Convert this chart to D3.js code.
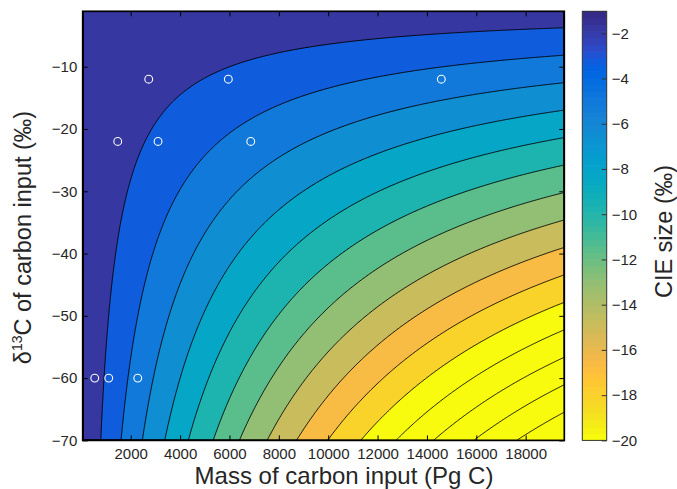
<!DOCTYPE html>
<html>
<head>
<meta charset="utf-8">
<script src="https://cdn.jsdelivr.net/npm/d3@7"></script>
<style>
  html, body { margin: 0; padding: 0; background: #ffffff; }
  svg { display: block; font-family: "Liberation Sans", Arial, Helvetica, sans-serif; }
</style>
</head>
<body>
<svg id="chart" width="677" height="489"></svg>
<script>
// ---------------- data ----------------
// Mass-balance model parameters read off the contour geometry
const reservoirMass = 32900;      // Pg C of the exchanging reservoir
const reservoirDelta = 0.68;      // ‰, initial δ13C of the reservoir
const massRange = [55, 19565];    // Pg C, x extent of the computed field
const deltaRange = [-70, -1.1];   // ‰, y extent of the computed field
const contourCount = 15;          // number of contour levels
const colorLimits = [-20, -1.03]; // colour axis limits

const massTicks = [2000, 4000, 6000, 8000, 10000, 12000, 14000, 16000, 18000];
const deltaTicks = [-70, -60, -50, -40, -30, -20, -10];
const cieTicks = [-20, -18, -16, -14, -12, -10, -8, -6, -4, -2];

// white open circles (mass, δ13C)
const circleMass  = [2730, 5955, 14583, 1474, 3107, 6862, 543, 1110, 2285];
const circleDelta = [-12, -12, -12, -22, -22, -22, -60, -60, -60];

const xTitle = "Mass of carbon input (Pg C)";
const cbTitle = "CIE size (‰)";

// parula colormap (64 entries)
const parula = [
[0.2081,0.1663,0.5292],[0.2116,0.1898,0.5777],[0.2123,0.2138,0.6270],[0.2081,0.2386,0.6771],
[0.1959,0.2645,0.7279],[0.1707,0.2919,0.7792],[0.1253,0.3242,0.8303],[0.0591,0.3598,0.8683],
[0.0117,0.3875,0.8820],[0.0060,0.4086,0.8828],[0.0165,0.4266,0.8786],[0.0329,0.4430,0.8720],
[0.0498,0.4586,0.8641],[0.0629,0.4737,0.8554],[0.0723,0.4887,0.8467],[0.0779,0.5040,0.8384],
[0.0793,0.5200,0.8312],[0.0749,0.5375,0.8263],[0.0641,0.5570,0.8240],[0.0488,0.5772,0.8228],
[0.0343,0.5966,0.8199],[0.0265,0.6137,0.8135],[0.0239,0.6287,0.8038],[0.0231,0.6418,0.7913],
[0.0228,0.6535,0.7768],[0.0267,0.6642,0.7607],[0.0384,0.6743,0.7436],[0.0590,0.6838,0.7254],
[0.0843,0.6928,0.7062],[0.1133,0.7015,0.6859],[0.1453,0.7098,0.6646],[0.1801,0.7177,0.6424],
[0.2178,0.7250,0.6193],[0.2586,0.7317,0.5954],[0.3022,0.7376,0.5712],[0.3482,0.7424,0.5473],
[0.3953,0.7459,0.5244],[0.4420,0.7481,0.5033],[0.4871,0.7491,0.4840],[0.5300,0.7491,0.4661],
[0.5709,0.7485,0.4494],[0.6099,0.7473,0.4337],[0.6473,0.7456,0.4188],[0.6834,0.7435,0.4044],
[0.7184,0.7411,0.3905],[0.7525,0.7384,0.3768],[0.7858,0.7356,0.3633],[0.8185,0.7327,0.3498],
[0.8507,0.7299,0.3360],[0.8824,0.7274,0.3217],[0.9139,0.7258,0.3063],[0.9450,0.7261,0.2886],
[0.9739,0.7314,0.2666],[0.9938,0.7455,0.2403],[0.9990,0.7653,0.2164],[0.9955,0.7861,0.1967],
[0.9880,0.8066,0.1794],[0.9789,0.8271,0.1633],[0.9697,0.8481,0.1475],[0.9626,0.8705,0.1309],
[0.9589,0.8949,0.1132],[0.9598,0.9218,0.0948],[0.9661,0.9514,0.0755],[0.9763,0.9831,0.0538]
];

// ---------------- layout ----------------
const plot = { left: 82.7, right: 564.3, top: 11.3, bottom: 440.4 };
const cbar = { left: 582.3, right: 606.7, top: 11.3, bottom: 440.4 };
const textColor = "#262626";

const svg = d3.select("#chart");

const x = d3.scaleLinear().domain(massRange).range([plot.left, plot.right]);
const y = d3.scaleLinear().domain(deltaRange).range([plot.bottom, plot.top]);
const cy = d3.scaleLinear().domain(colorLimits).range([cbar.bottom, cbar.top]);

function rgb(c) { return d3.rgb(c[0]*255, c[1]*255, c[2]*255).formatHex(); }
// flipped parula, discrete like MATLAB
function colorOf(v) {
  const t = (v - colorLimits[0]) / (colorLimits[1] - colorLimits[0]);
  const idx = Math.max(0, Math.min(63, Math.floor(t * 64)));
  return rgb(parula[63 - idx]);
}

// ---------------- field ----------------
function cie(mass, delta) {
  return mass * (delta - reservoirDelta) / (reservoirMass + mass);
}
const nx = Math.round(plot.right - plot.left);
const ny = Math.round(plot.bottom - plot.top);
const dM = (massRange[1] - massRange[0]) / nx;
const dD = (deltaRange[1] - deltaRange[0]) / ny;
const values = new Float64Array(nx * ny);
for (let j = 0; j < ny; j++) {
  const d = deltaRange[1] - (j + 0.5) * dD;
  for (let i = 0; i < nx; i++) {
    const m = massRange[0] + (i + 0.5) * dM;
    values[j * nx + i] = cie(m, d);
  }
}
const zmin = d3.min(values), zmax = d3.max(values);
// MATLAB-like: N levels evenly spaced strictly inside [zmin, zmax]
const levels = d3.range(1, contourCount + 1).map(k => zmin + (zmax - zmin) * k / (contourCount + 1));

const contourGen = d3.contours().size([nx, ny]);
const proj = d3.geoTransform({
  point: function(px, py) {
    this.stream.point(x(massRange[0] + px * dM), y(deltaRange[1] - py * dD));
  }
});
const path = d3.geoPath(proj);

svg.append("clipPath").attr("id", "clip")
  .append("rect")
  .attr("x", plot.left).attr("y", plot.top)
  .attr("width", plot.right - plot.left).attr("height", plot.bottom - plot.top);

const field = svg.append("g").attr("clip-path", "url(#clip)");
field.append("rect")
  .attr("x", plot.left).attr("y", plot.top)
  .attr("width", plot.right - plot.left).attr("height", plot.bottom - plot.top)
  .attr("fill", colorOf(zmin));

const polys = levels.map(L => contourGen.contour(values, L));
field.selectAll("path.band").data(polys).join("path")
  .attr("class", "band")
  .attr("d", path)
  .attr("fill", d => colorOf(d.value))
  .attr("stroke", "none");
field.selectAll("path.line").data(polys).join("path")
  .attr("class", "line")
  .attr("d", path)
  .attr("fill", "none")
  .attr("stroke", "#000")
  .attr("stroke-width", 0.9);

// circles
field.selectAll("circle.pt").data(circleMass.map((m, i) => [m, circleDelta[i]])).join("circle")
  .attr("class", "pt")
  .attr("cx", d => x(d[0])).attr("cy", d => y(d[1]))
  .attr("r", 3.9)
  .attr("fill", "none").attr("stroke", "#ffffff").attr("stroke-width", 1.1);

// ---------------- axes ----------------
const fmt = d3.format("d");
const tl = 5;
const tickFont = 15;
function styleAxis(g, showText) {
  g.select(".domain").remove();
  g.selectAll(".tick line").attr("stroke", "#000").attr("stroke-width", 1);
  g.selectAll(".tick text").attr("fill", textColor).attr("font-size", tickFont);
  if (!showText) g.selectAll(".tick text").remove();
}
svg.append("g").attr("transform", `translate(0,${plot.bottom})`)
  .call(d3.axisBottom(x).tickValues(massTicks).tickFormat(fmt).tickSizeInner(-tl).tickSizeOuter(0).tickPadding(8))
  .call(g => styleAxis(g, true));
svg.append("g").attr("transform", `translate(0,${plot.top})`)
  .call(d3.axisTop(x).tickValues(massTicks).tickSizeInner(-tl).tickSizeOuter(0))
  .call(g => styleAxis(g, false));
svg.append("g").attr("transform", `translate(${plot.left},0)`)
  .call(d3.axisLeft(y).tickValues(deltaTicks).tickFormat(d3.format("d")).tickSizeInner(-tl).tickSizeOuter(0).tickPadding(5.4))
  .call(g => styleAxis(g, true));
svg.append("g").attr("transform", `translate(${plot.right},0)`)
  .call(d3.axisRight(y).tickValues(deltaTicks).tickSizeInner(-tl).tickSizeOuter(0))
  .call(g => styleAxis(g, false));

svg.append("rect")
  .attr("x", plot.left).attr("y", plot.top)
  .attr("width", plot.right - plot.left).attr("height", plot.bottom - plot.top)
  .attr("fill", "none").attr("stroke", "#000").attr("stroke-width", 1.7);

// ---------------- colorbar ----------------
const cbSteps = d3.range(64).map(i => colorLimits[0] + (colorLimits[1] - colorLimits[0]) * i / 64);
const cbStep = (colorLimits[1] - colorLimits[0]) / 64;
svg.append("g").selectAll("rect").data(cbSteps).join("rect")
  .attr("x", cbar.left)
  .attr("width", cbar.right - cbar.left)
  .attr("y", d => cy(d + cbStep) - 0.3)
  .attr("height", d => cy(d) - cy(d + cbStep) + 0.6)
  .attr("fill", d => colorOf(d + cbStep / 2));
svg.append("g").attr("transform", `translate(${cbar.right},0)`)
  .call(d3.axisRight(cy).tickValues(cieTicks).tickFormat(d3.format("d")).tickSizeInner(-tl).tickSizeOuter(0).tickPadding(5))
  .call(g => styleAxis(g, true))
  .call(g => g.selectAll(".tick line").attr("stroke", "#333"));
svg.append("rect")
  .attr("x", cbar.left).attr("y", cbar.top)
  .attr("width", cbar.right - cbar.left).attr("height", cbar.bottom - cbar.top)
  .attr("fill", "none").attr("stroke", "#333").attr("stroke-width", 1);

// ---------------- titles ----------------
svg.append("text")
  .attr("x", 344).attr("y", 483.5)
  .attr("text-anchor", "middle")
  .attr("font-size", 24).attr("fill", textColor)
  .text(xTitle);

const yt = svg.append("text")
  .attr("transform", "translate(31,237.5) rotate(-90)")
  .attr("text-anchor", "middle")
  .attr("font-size", 23.5).attr("fill", textColor);
yt.append("tspan").text("δ");
yt.append("tspan").attr("font-size", 14).attr("dy", -9).text("13");
yt.append("tspan").attr("dy", 9).text("C of carbon input (‰)");

svg.append("text")
  .attr("transform", "translate(672,231.5) rotate(-90)")
  .attr("text-anchor", "middle")
  .attr("font-size", 23.5).attr("fill", textColor)
  .text(cbTitle);
</script>
</body>
</html>
